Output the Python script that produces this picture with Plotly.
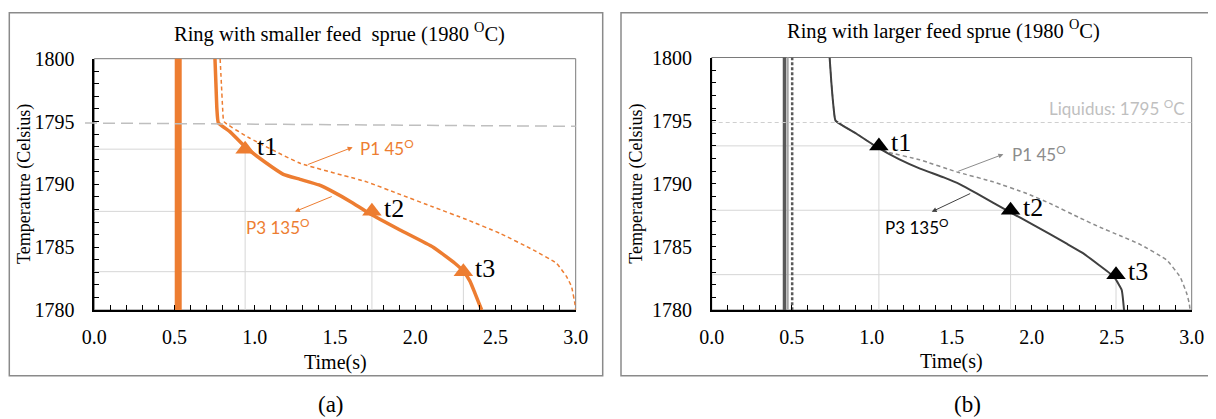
import plotly.graph_objects as go

# ---------------- data: panel (a) smaller feed sprue ----------------
a_p3_time = [0.752, 0.758, 0.764, 0.773, 0.845, 0.939, 1.074, 1.178, 1.282, 1.40, 1.489,
             1.60, 1.713, 1.905, 2.112, 2.247, 2.299, 2.341, 2.372, 2.393, 2.414]
a_p3_temp = [1800, 1798, 1796, 1794.9, 1794.2, 1793.0, 1791.68, 1790.8, 1790.4, 1789.95, 1789.4,
             1788.6, 1787.7, 1786.37, 1785.0, 1783.72, 1783.1, 1782.3, 1781.34, 1780.67, 1780.0]
a_p1_time = [0.784, 0.792, 0.800, 0.808, 0.97, 1.282, 1.697, 1.905, 2.112, 2.32, 2.528,
             2.735, 2.88, 2.943, 2.974, 2.995, 3.0]
a_p1_temp = [1800, 1798, 1796, 1795.0, 1793.67, 1791.68, 1790.2, 1789.2, 1788.2, 1787.2, 1786.1,
             1784.78, 1783.72, 1782.66, 1781.86, 1780.5, 1780.0]
a_sprue_time = [0.523, 0.523]
a_sprue_temp = [1778, 1802]
a_mark_time = [0.94, 1.73, 2.30]
a_mark_temp = [1792.8, 1787.85, 1783.05]

# ---------------- data: panel (b) larger feed sprue ----------------
b_p3_time = [0.737, 0.748, 0.762, 0.774, 0.90, 1.031, 1.17, 1.302, 1.45, 1.552, 1.656, 1.864,
             2.01, 2.219, 2.323, 2.427, 2.489, 2.521, 2.5625, 2.577]
b_p3_temp = [1800, 1798, 1796, 1795.0, 1794.0, 1792.92, 1791.95, 1791.2, 1790.5, 1789.95, 1789.23,
             1787.75, 1786.75, 1785.25, 1784.48, 1783.5, 1782.9, 1782.5, 1781.58, 1780.0]
b_p1_time = [0.737, 0.748, 0.762, 0.774, 0.90, 1.031, 1.094, 1.30, 1.531, 1.76, 1.969, 2.114,
             2.30, 2.427, 2.55, 2.677, 2.844, 2.927, 2.969, 2.985, 2.99]
b_p1_temp = [1800, 1798, 1796, 1795.0, 1794.0, 1792.92, 1792.53, 1791.9, 1790.94, 1790.15, 1789.23,
             1788.44, 1787.3, 1786.55, 1785.9, 1785.2, 1783.95, 1782.63, 1781.31, 1780.5, 1780.0]
b_sprue_a_time = [0.455, 0.455]
b_sprue_b_time = [0.475, 0.475]
b_sprue_c_time = [0.503, 0.503]
b_sprue_temp = [1778, 1802]
b_mark_time = [1.045, 1.868, 2.527]
b_mark_temp = [1793.0, 1787.9, 1782.8]

mark_labels = ["t1", "t2", "t3"]
liquidus_temp = 1795
x_range = [0, 3]
y_range = [1780, 1800]
x_tickvals = [0.0, 0.5, 1.0, 1.5, 2.0, 2.5, 3.0]
y_tickvals = [1780, 1785, 1790, 1795, 1800]

ORANGE = "#ED7D31"
OFF = 8                      # default page body margin
W, H = 1216 - OFF, 419 - OFF
SERIF = "Liberation Serif"
SANS = "Lato"


def px(v):
    return (v - OFF) / W


def py(v):
    return 1 - (v - OFF) / H


def drop_lines(xs, ys):
    lx, ly = [], []
    for x, y in zip(xs, ys):
        lx += [x_range[0], x, None, x, x, None]
        ly += [y, y, None, y_range[0], y, None]
    return lx, ly


fig = go.Figure()

# ---- panel (a) traces ----
dx, dy = drop_lines(a_mark_time, a_mark_temp)
fig.add_trace(go.Scatter(x=dx, y=dy, mode="lines", line=dict(color="#d6d6d6", width=1),
                         xaxis="x", yaxis="y", hoverinfo="skip"))
fig.add_trace(go.Scatter(x=a_sprue_time, y=a_sprue_temp, mode="lines",
                         line=dict(color=ORANGE, width=7), xaxis="x", yaxis="y"))
fig.add_trace(go.Scatter(x=a_p1_time, y=a_p1_temp, mode="lines",
                         line=dict(color=ORANGE, width=1.5, dash="4px,3px", shape="spline", smoothing=0.4),
                         xaxis="x", yaxis="y"))
fig.add_trace(go.Scatter(x=a_p3_time, y=a_p3_temp, mode="lines",
                         line=dict(color=ORANGE, width=3.5, shape="spline", smoothing=0.4),
                         xaxis="x", yaxis="y"))
fig.add_trace(go.Scatter(x=a_mark_time, y=a_mark_temp, mode="markers",
                         marker=dict(symbol="triangle-up", size=17, color=ORANGE),
                         xaxis="x", yaxis="y"))

# ---- panel (b) traces ----
dx, dy = drop_lines(b_mark_time, b_mark_temp)
fig.add_trace(go.Scatter(x=dx, y=dy, mode="lines", line=dict(color="#d6d6d6", width=1),
                         xaxis="x2", yaxis="y2", hoverinfo="skip"))
fig.add_trace(go.Scatter(x=b_sprue_b_time, y=b_sprue_temp, mode="lines",
                         line=dict(color="#a6a6a6", width=2), xaxis="x2", yaxis="y2"))
fig.add_trace(go.Scatter(x=b_sprue_c_time, y=b_sprue_temp, mode="lines",
                         line=dict(color="#595959", width=2.5, dash="3px,2px"), xaxis="x2", yaxis="y2"))
fig.add_trace(go.Scatter(x=b_sprue_a_time, y=b_sprue_temp, mode="lines",
                         line=dict(color="#595959", width=3.5), xaxis="x2", yaxis="y2"))
fig.add_trace(go.Scatter(x=b_p1_time, y=b_p1_temp, mode="lines",
                         line=dict(color="#8c8c8c", width=1.5, dash="4px,3px", shape="spline", smoothing=0.4),
                         xaxis="x2", yaxis="y2"))
fig.add_trace(go.Scatter(x=b_p3_time, y=b_p3_temp, mode="lines",
                         line=dict(color="#404040", width=2, shape="spline", smoothing=0.4),
                         xaxis="x2", yaxis="y2"))
fig.add_trace(go.Scatter(x=b_mark_time, y=b_mark_temp, mode="markers",
                         marker=dict(symbol="triangle-up", size=17, color="#000000"),
                         xaxis="x2", yaxis="y2"))

axis_common = dict(
    showgrid=False, zeroline=False, showline=True, linecolor="#000000", linewidth=1.5,
    ticks="inside", ticklen=5, tickcolor="#000000", tickwidth=1, automargin=False,
    tickfont=dict(family=SERIF, size=20, color="#000000"),
)
xa = dict(axis_common, range=x_range, tickvals=x_tickvals, tickformat=".1f",
          minor=dict(dtick=0.1, ticks="inside", ticklen=5, tickcolor="#000000"),
          ticklabelstandoff=8)
ya = dict(axis_common, range=y_range, tickvals=y_tickvals,
          minor=dict(dtick=1, ticks="inside", ticklen=5, tickcolor="#000000"),
          ticklabelstandoff=14)

fig.update_layout(
    width=W, height=H, margin=dict(l=0, r=0, t=0, b=0, autoexpand=False),
    paper_bgcolor="white", plot_bgcolor="white", showlegend=False,
    xaxis=dict(xa, domain=[px(94.3), px(575.7)], anchor="y"),
    yaxis=dict(ya, domain=[py(310), py(58.7)], anchor="x"),
    xaxis2=dict(xa, domain=[px(711.7), px(1191.7)], anchor="y2"),
    yaxis2=dict(ya, domain=[py(310), py(57.5)], anchor="x2"),
)

shapes = []
# plot-area frames
for xr, yr in (("x", "y"), ("x2", "y2")):
    shapes.append(dict(type="rect", xref=xr + " domain", yref=yr + " domain", x0=0, x1=1, y0=0, y1=1,
                       line=dict(color="#7a7a7a", width=1), layer="below"))
# outer panel boxes
shapes.append(dict(type="rect", xref="paper", yref="paper", x0=px(9.3), x1=px(602.7),
                   y0=py(375.7), y1=py(12.7), line=dict(color="#8a8a8a", width=1.5)))
shapes.append(dict(type="rect", xref="paper", yref="paper", x0=px(621), x1=px(1214.5),
                   y0=py(375.7), y1=py(12.7), line=dict(color="#8a8a8a", width=1.5)))
# liquidus lines
shapes.append(dict(type="line", xref="paper", yref="y", x0=px(85), x1=px(575.7),
                   y0=liquidus_temp - 0.12, y1=liquidus_temp - 0.38,
                   line=dict(color="#bfbfbf", width=1.5, dash="12px,6px")))
shapes.append(dict(type="line", xref="x2", yref="y2", x0=x_range[0], x1=x_range[1],
                   y0=liquidus_temp - 0.15, y1=liquidus_temp - 0.15,
                   line=dict(color="#cfcfcf", width=1, dash="4px,3px")))
fig.update_layout(shapes=shapes)

ann = []
# titles
ann.append(dict(xref="paper", yref="paper", x=px(339), y=py(32), text="Ring with smaller feed\u00a0 sprue (1980 <sup>O</sup>C)",
                showarrow=False, font=dict(family=SERIF, size=20.5, color="#000000"), xanchor="center", yanchor="middle"))
ann.append(dict(xref="paper", yref="paper", x=px(943), y=py(29.5), text="Ring with larger feed sprue (1980 <sup>O</sup>C)",
                showarrow=False, font=dict(family=SERIF, size=20.5, color="#000000"), xanchor="center", yanchor="middle"))
# axis titles
for cx, cy in ((335, 362.5), (951.7, 361.7)):
    ann.append(dict(xref="paper", yref="paper", x=px(cx), y=py(cy), text="Time(s)", showarrow=False,
                    font=dict(family=SERIF, size=20, color="#000000"), xanchor="center", yanchor="middle"))
for cx, cy in ((25, 184), (636.7, 184)):
    ann.append(dict(xref="paper", yref="paper", x=px(cx), y=py(cy), text="Temperature (Celsius)", showarrow=False,
                    textangle=-90, font=dict(family=SERIF, size=18, color="#000000"),
                    xanchor="center", yanchor="middle"))
# panel letters
ann.append(dict(xref="paper", yref="paper", x=px(331), y=py(404), text="(a)", showarrow=False,
                font=dict(family=SERIF, size=23, color="#000000"), xanchor="center", yanchor="middle"))
ann.append(dict(xref="paper", yref="paper", x=px(967), y=py(404), text="(b)", showarrow=False,
                font=dict(family=SERIF, size=23, color="#000000"), xanchor="center", yanchor="middle"))
# marker labels
for (xs, ys, xr, yr) in ((a_mark_time, a_mark_temp, "x", "y"), (b_mark_time, b_mark_temp, "x2", "y2")):
    for x, y, lab in zip(xs, ys, mark_labels):
        ann.append(dict(xref=xr, yref=yr, x=x, y=y, text=lab, showarrow=False, xanchor="left",
                        yanchor="middle", xshift=10, yshift=3,
                        font=dict(family=SERIF, size=26, color="#000000")))

# P labels with arrows (arrow-only annotations, head at x,y; tail at ax,ay)
def arrow(xr, yr, head, tail, color):
    return dict(xref=xr, yref=yr, axref=xr, ayref=yr, x=head[0], y=head[1], ax=tail[0], ay=tail[1],
                text="", showarrow=True, arrowhead=2, arrowsize=1, arrowwidth=1, arrowcolor=color)

ann.append(arrow("x", "y", (1.610, 1792.95), (1.323, 1791.54), ORANGE))
ann.append(arrow("x", "y", (1.250, 1787.83), (1.489, 1789.08), ORANGE))
ann.append(arrow("x2", "y2", (1.823, 1792.34), (1.531, 1790.94), "#8c8c8c"))
ann.append(arrow("x2", "y2", (1.375, 1787.78), (1.625, 1789.28), "#404040"))

ann.append(dict(xref="x", yref="y", x=1.645, y=1792.95, text="P1 45<sup>O</sup>", showarrow=False,
                xanchor="left", yanchor="middle", font=dict(family=SANS, size=17, color=ORANGE)))
ann.append(dict(xref="x", yref="y", x=1.145, y=1786.63, text="P3 135<sup>O</sup>", showarrow=False,
                xanchor="center", yanchor="middle", font=dict(family=SANS, size=17, color=ORANGE)))
ann.append(dict(xref="x2", yref="y2", x=1.864, y=1792.42, text="P1 45<sup>O</sup>", showarrow=False,
                xanchor="left", yanchor="middle", font=dict(family=SANS, size=17, color="#8c8c8c")))
ann.append(dict(xref="x2", yref="y2", x=1.281, y=1786.59, text="P3 135<sup>O</sup>", showarrow=False,
                xanchor="center", yanchor="middle", font=dict(family=SANS, size=17, color="#000000")))
ann.append(dict(xref="x2", yref="y2", x=2.97, y=liquidus_temp + 1.05, text="Liquidus: 1795 <sup>O</sup>C",
                showarrow=False, xanchor="right", yanchor="middle",
                font=dict(family=SANS, size=17, color="#bfbfbf")))

fig.update_layout(annotations=ann)
fig.write_html("out.html")
